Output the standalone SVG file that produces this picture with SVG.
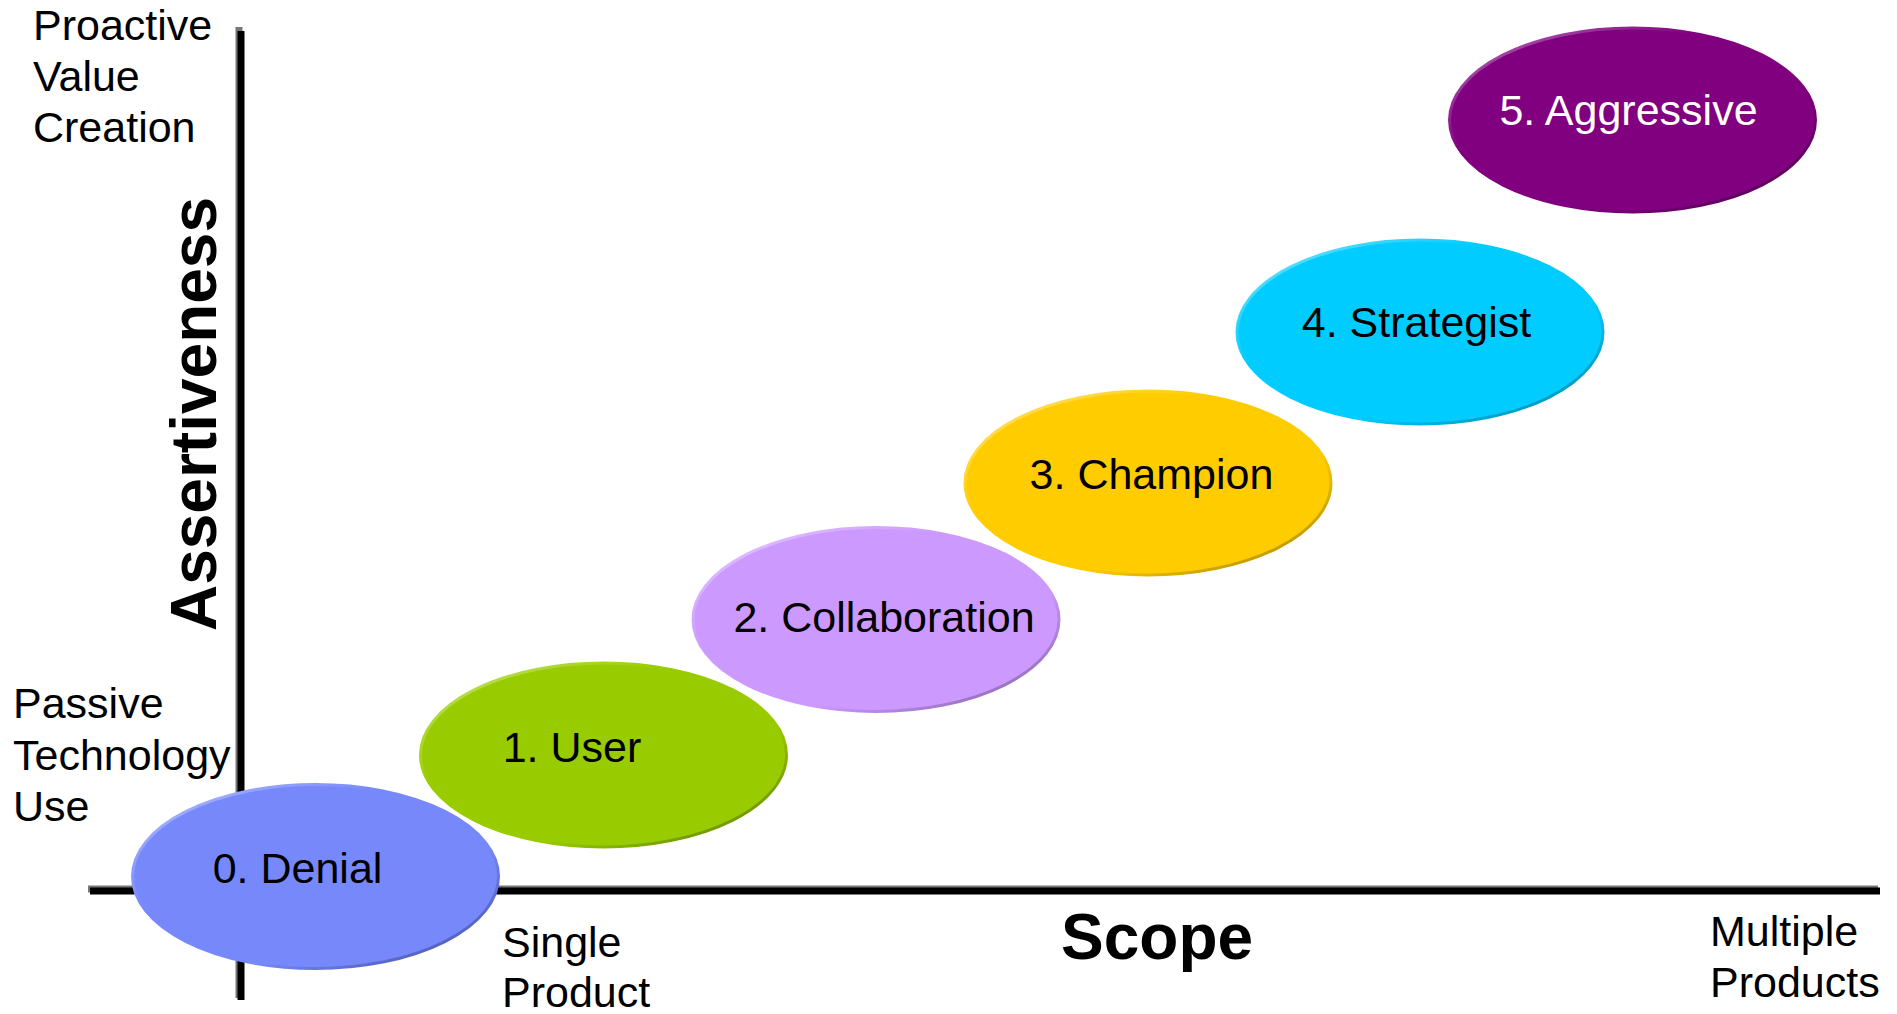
<svg xmlns="http://www.w3.org/2000/svg" width="1897" height="1014" viewBox="0 0 1897 1014">
<style>
.lbl{font-family:"Liberation Sans",Arial,sans-serif;font-size:43px;fill:#000}
.node{font-family:"Liberation Sans",Arial,sans-serif;font-size:43px;fill:#000;text-anchor:middle}
.axt{font-family:"Liberation Sans",Arial,sans-serif;font-size:64px;font-weight:bold;fill:#000}
.ell{stroke-width:3}
</style>
<defs>
<linearGradient id="g0" x1="0" y1="0" x2="1" y2="1"><stop offset="0" stop-color="#B5C0FF"/><stop offset="0.35" stop-color="#7788FA"/><stop offset="0.65" stop-color="#7788FA"/><stop offset="1" stop-color="#3F4A9C"/></linearGradient>
<linearGradient id="g1" x1="0" y1="0" x2="1" y2="1"><stop offset="0" stop-color="#C8E570"/><stop offset="0.35" stop-color="#99CC00"/><stop offset="0.65" stop-color="#99CC00"/><stop offset="1" stop-color="#5A7800"/></linearGradient>
<linearGradient id="g2" x1="0" y1="0" x2="1" y2="1"><stop offset="0" stop-color="#E6CCFF"/><stop offset="0.35" stop-color="#CC99FF"/><stop offset="0.65" stop-color="#CC99FF"/><stop offset="1" stop-color="#7A5C99"/></linearGradient>
<linearGradient id="g3" x1="0" y1="0" x2="1" y2="1"><stop offset="0" stop-color="#FFE580"/><stop offset="0.35" stop-color="#FFCC00"/><stop offset="0.65" stop-color="#FFCC00"/><stop offset="1" stop-color="#9C7D00"/></linearGradient>
<linearGradient id="g4" x1="0" y1="0" x2="1" y2="1"><stop offset="0" stop-color="#80E5FF"/><stop offset="0.35" stop-color="#00CCFF"/><stop offset="0.65" stop-color="#00CCFF"/><stop offset="1" stop-color="#007A99"/></linearGradient>
<linearGradient id="g5" x1="0" y1="0" x2="1" y2="1"><stop offset="0" stop-color="#B870B8"/><stop offset="0.35" stop-color="#800080"/><stop offset="0.65" stop-color="#800080"/><stop offset="1" stop-color="#4A004A"/></linearGradient>
</defs>
<g id="connectors">
<line x1="239" y1="27" x2="239" y2="998" stroke="#777" stroke-width="7"/>
<line x1="241" y1="31" x2="241" y2="1000" stroke="#000" stroke-width="7"/>
<line x1="88" y1="889" x2="1878" y2="889" stroke="#777" stroke-width="7"/>
<line x1="90" y1="891" x2="1880" y2="891" stroke="#000" stroke-width="7"/>
</g>
<g id="labels">
<text class="lbl" x="33" y="40">Proactive</text>
<text class="lbl" x="33" y="91">Value</text>
<text class="lbl" x="33" y="142">Creation</text>
<text class="lbl" x="13" y="718">Passive</text>
<text class="lbl" x="13" y="770">Technology</text>
<text class="lbl" x="13" y="821">Use</text>
<text class="lbl" x="502" y="957">Single</text>
<text class="lbl" x="502" y="1007">Product</text>
<text class="lbl" x="1710" y="946">Multiple</text>
<text class="lbl" x="1710" y="997">Products</text>
<text class="axt" x="1061" y="959">Scope</text>
<text class="axt" transform="translate(216,414) rotate(-90)" text-anchor="middle">Assertiveness</text>
</g>
<g id="node0"><ellipse class="ell" cx="315.5" cy="876.5" rx="183" ry="92" fill="#7788FA" stroke="url(#g0)"/><text class="node" x="297.5" y="883">0. Denial</text></g>
<g id="node1"><ellipse class="ell" cx="603.5" cy="755" rx="183" ry="92" fill="#99CC00" stroke="url(#g1)"/><text class="node" x="572" y="762">1. User</text></g>
<g id="node2"><ellipse class="ell" cx="876" cy="619.5" rx="183" ry="92" fill="#CC99FF" stroke="url(#g2)"/><text class="node" x="884" y="632">2. Collaboration</text></g>
<g id="node3"><ellipse class="ell" cx="1148" cy="483" rx="183" ry="92" fill="#FFCC00" stroke="url(#g3)"/><text class="node" x="1151.5" y="489">3. Champion</text></g>
<g id="node4"><ellipse class="ell" cx="1420" cy="332" rx="183" ry="92" fill="#00CCFF" stroke="url(#g4)"/><text class="node" x="1416.5" y="337">4. Strategist</text></g>
<g id="node5"><ellipse class="ell" cx="1632.5" cy="120" rx="183" ry="92" fill="#800080" stroke="url(#g5)"/><text class="node" x="1628.5" y="125" style="fill:#fff">5. Aggressive</text></g>
</svg>
